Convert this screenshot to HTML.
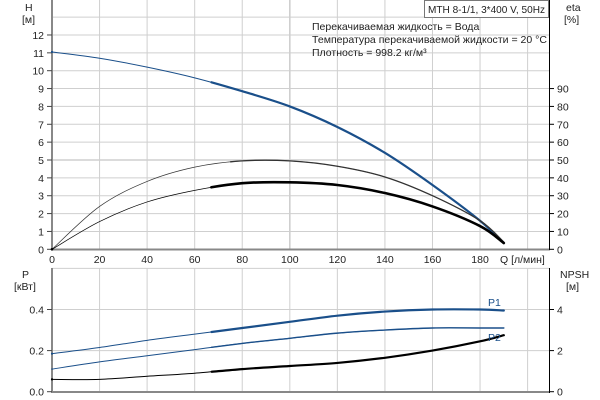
<!DOCTYPE html>
<html><head><meta charset="utf-8"><style>
body{margin:0;background:#fff;}
svg{display:block;font-family:"Liberation Sans",Arial,sans-serif;}
text{font-size:10.5px;fill:#222;}
</style></head><body>
<svg id="s" width="600" height="400" viewBox="0 0 600 400" xmlns="http://www.w3.org/2000/svg">
<g id="grid" stroke="#cfcfcf" stroke-width="1"></g>
<g id="axes"></g>
<g id="curves" fill="none" stroke-linecap="round"></g>
<g id="labels"></g>
<rect x="424.5" y="0.5" width="124" height="17" fill="#fff" stroke="#777"/>
<text x="428" y="13" textLength="117" lengthAdjust="spacingAndGlyphs">MTH 8-1/1, 3*400 V, 50Hz</text>
<text x="312" y="30">Перекачиваемая жидкость = Вода</text>
<text x="312" y="43" textLength="235" lengthAdjust="spacingAndGlyphs">Температура перекачиваемой жидкости = 20 °C</text>
<text x="312" y="56">Плотность = 998.2 кг/м³</text>
<text x="25" y="11">H</text><text x="22" y="23">[м]</text>
<text x="566" y="11">eta</text><text x="564" y="23">[%]</text>
<text x="22" y="278">P</text><text x="14" y="290">[кВт]</text>
<text x="560" y="278">NPSH</text><text x="566" y="290">[м]</text>
<text x="500" y="263">Q [л/мин]</text>
<text x="488" y="306" style="fill:#1a4f8a">P1</text>
<text x="488" y="341" style="fill:#1a4f8a">P2</text>
</svg>
<script>
const NS="http://www.w3.org/2000/svg";
function el(p,t,a,txt){const e=document.createElementNS(NS,t);for(const k in a)e.setAttribute(k,a[k]);if(txt!==undefined)e.textContent=txt;document.getElementById(p).appendChild(e);return e;}
const X=q=>52+q*2.378;
const YH=h=>249.3-h*17.86;
const YP=p=>391.7-p*205.5;
for(let q=20;q<=200;q+=20)el("grid","line",{x1:X(q),y1:0,x2:X(q),y2:249,"stroke-width":q==100?1.6:1});
for(let h=1;h<=13;h++)el("grid","line",{x1:52,y1:YH(h),x2:549,y2:YH(h),"stroke-width":h==5?1.6:1});
for(let q=20;q<=200;q+=20)el("grid","line",{x1:X(q),y1:268,x2:X(q),y2:392});
for(const p of [0.2,0.4,0.6])el("grid","line",{x1:52,y1:YP(p),x2:549,y2:YP(p)});
el("axes","line",{x1:52,y1:0,x2:52,y2:250,stroke:"#888","stroke-width":2});
el("axes","line",{x1:51,y1:249.5,x2:550,y2:249.5,stroke:"#888","stroke-width":2});
el("axes","line",{x1:549.5,y1:0,x2:549.5,y2:250,stroke:"#000","stroke-width":1});
el("axes","line",{x1:52,y1:268,x2:52,y2:393,stroke:"#888","stroke-width":2});
el("axes","line",{x1:51,y1:392,x2:550,y2:392,stroke:"#888","stroke-width":2});
el("axes","line",{x1:549.5,y1:268,x2:549.5,y2:393,stroke:"#000","stroke-width":1});
for(let h=0;h<=12;h++){el("axes","line",{x1:47,y1:YH(h),x2:52,y2:YH(h),stroke:"#444"});el("labels","text",{x:44,y:YH(h)+4,"text-anchor":"end"},h);}
for(let e=0;e<=9;e++){el("axes","line",{x1:549,y1:YH(e),x2:554,y2:YH(e),stroke:"#000"});el("labels","text",{x:557,y:YH(e)+4},e*10);}
for(let q=0;q<=180;q+=20)el("labels","text",{x:X(q),y:263,"text-anchor":"middle"},q);
for(const p of [0,0.2,0.4]){el("axes","line",{x1:47,y1:YP(p),x2:52,y2:YP(p),stroke:"#444"});el("labels","text",{x:44,y:YP(p)+4,"text-anchor":"end"},p.toFixed(1));}
for(const n of [0,2,4]){el("axes","line",{x1:549,y1:YP(n/10),x2:554,y2:YP(n/10),stroke:"#000"});el("labels","text",{x:557,y:YP(n/10)+4},n);}
function path(pts){let d="M"+pts[0][0]+","+pts[0][1];for(let i=0;i<pts.length-1;i++){const p0=pts[Math.max(0,i-1)],p1=pts[i],p2=pts[i+1],p3=pts[Math.min(pts.length-1,i+2)];const c1=[p1[0]+(p2[0]-p0[0])/6,p1[1]+(p2[1]-p0[1])/6],c2=[p2[0]-(p3[0]-p1[0])/6,p2[1]-(p3[1]-p1[1])/6];d+=`C${c1[0]},${c1[1]} ${c2[0]},${c2[1]} ${p2[0]},${p2[1]}`;}return d;}
const Q=[0,20,40,60,80,100,120,140,160,180,190];
function draw(vals,Y,color,thin,tw,start){const pts=Q.map((q,i)=>[X(q),Y(vals[i])]);const d=path(pts);el("curves","path",{d:d,stroke:color,"stroke-width":thin});const c=el("curves","path",{d:d,stroke:color,"stroke-width":tw});const L=c.getTotalLength();let s=0;for(let l=0;l<L;l+=0.5){if(c.getPointAtLength(l).x>=X(start)){s=l;break;}}c.setAttribute("stroke-dasharray",`0 ${s} ${L} 0`);}
draw([11.05,10.7,10.2,9.6,8.85,8.0,6.85,5.4,3.6,1.6,0.35],YH,"#1a4f8a",1,2.2,67);
draw([0,2.4,3.8,4.6,4.95,4.95,4.65,4.05,3.0,1.6,0.4],YH,"#333",0.7,1.3,75);
draw([0,1.55,2.65,3.3,3.7,3.75,3.6,3.15,2.4,1.3,0.35],YH,"#000",0.7,2.6,67);
draw([0.185,0.215,0.25,0.28,0.31,0.34,0.37,0.39,0.40,0.40,0.395],YP,"#1a4f8a",1,2.2,67);
draw([0.11,0.145,0.175,0.205,0.235,0.26,0.285,0.30,0.31,0.31,0.31],YP,"#1a4f8a",1,1.4,67);
draw([0.06,0.06,0.075,0.09,0.11,0.125,0.14,0.165,0.2,0.245,0.275],YP,"#000",1,2.2,67);
</script>
</body></html>
